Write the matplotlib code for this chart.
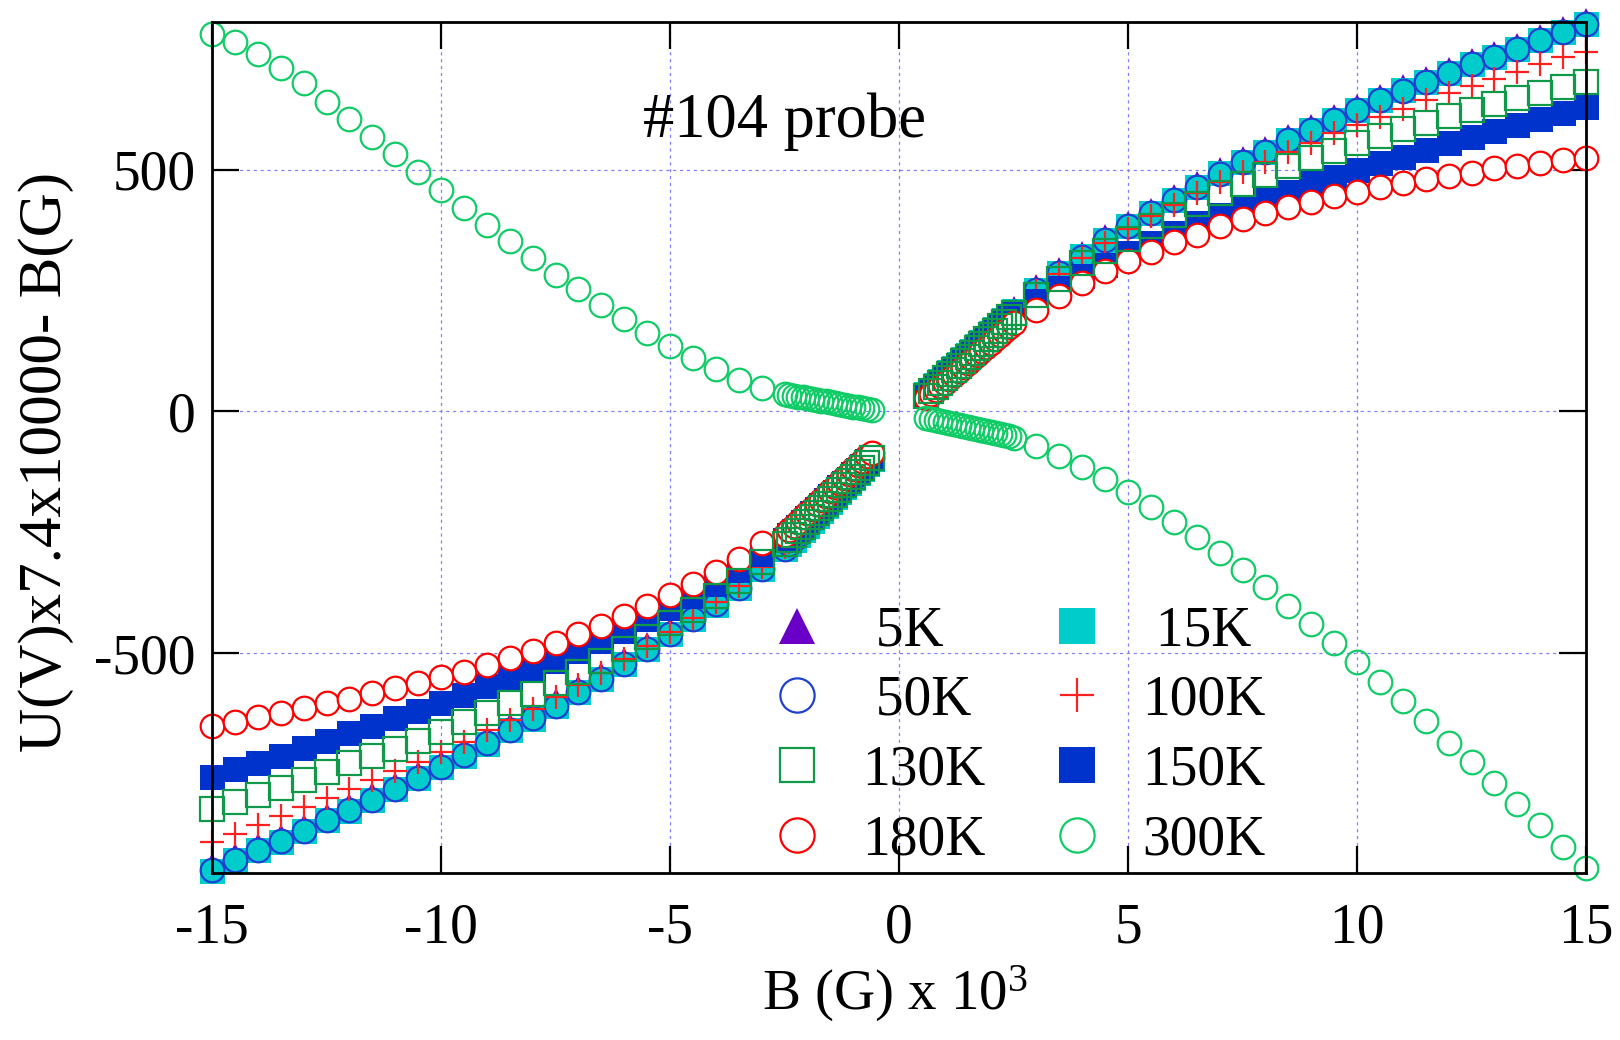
import numpy as np
import matplotlib
matplotlib.use('Agg')
import matplotlib.pyplot as plt

plt.rcParams['font.family'] = ['Liberation Serif', 'DejaVu Serif']
plt.rcParams['mathtext.default'] = 'regular'
plt.rcParams['axes.unicode_minus'] = False

# campo B (G) x 10^3: tramos gruesos (paso 0.5) y densos (paso 0.1)
B_NEG = np.round(np.arange(-15, -2.99, 0.5), 2)
B_NEG_D = np.round(np.arange(-2.5, -0.59, 0.1), 2)
B_POS_D = np.round(np.arange(0.6, 2.51, 0.1), 2)
B_POS = np.round(np.arange(3, 15.01, 0.5), 2)

# U(V)x7.4x10000 - B(G)
Y5_NEG = [-938, -917, -897, -878, -857, -835, -814, -792, -771, -748, -725, -701, -677, -649, -625, -598, -571, -543, -513, -482, -451, -420, -390, -356, -316]
Y5_NEG_D = [-275, -265, -255, -246, -236, -226, -216, -206, -196, -186, -177, -167, -157, -147, -137, -127, -118, -108, -98, -88]
Y5_POS_D = [44, 53, 62, 71, 80, 89, 98, 107, 116, 125, 134, 143, 152, 161, 170, 179, 188, 197, 206, 215]
Y5_POS = [260, 294, 329, 363, 391, 418, 446, 473, 501, 525, 546, 570, 591, 611, 632, 653, 673, 690, 708, 728, 742, 759, 777, 794, 810]

Y15_NEG = [-950, -929, -908, -890, -869, -846, -826, -803, -782, -759, -736, -712, -688, -660, -636, -609, -581, -554, -523, -492, -461, -430, -400, -366, -325]
Y15_NEG_D = [-285, -275, -265, -256, -246, -236, -226, -216, -206, -196, -187, -177, -167, -157, -147, -137, -128, -118, -108, -98]
Y15_POS_D = [36, 45, 54, 63, 72, 81, 90, 99, 108, 117, 126, 135, 144, 153, 162, 171, 180, 189, 198, 207]
Y15_POS = [252, 286, 321, 355, 383, 410, 438, 465, 493, 517, 538, 562, 583, 603, 624, 645, 665, 682, 700, 720, 734, 751, 769, 786, 802]

Y50_NEG = [-949, -928, -908, -889, -868, -846, -825, -803, -781, -759, -735, -711, -687, -660, -635, -609, -580, -553, -523, -491, -460, -430, -399, -365, -325]
Y50_NEG_D = [-284, -274, -264, -255, -245, -235, -225, -215, -205, -196, -186, -176, -166, -156, -146, -137, -127, -117, -107, -97]
Y50_POS_D = [35, 44, 53, 62, 71, 80, 89, 98, 107, 116, 125, 134, 143, 152, 161, 170, 179, 188, 197, 206]
Y50_POS = [251, 286, 320, 354, 383, 410, 437, 465, 492, 517, 538, 561, 583, 603, 624, 644, 664, 682, 700, 719, 734, 751, 768, 786, 801]

Y100_NEG = [-891, -874, -855, -837, -819, -800, -781, -762, -743, -725, -704, -683, -660, -638, -616, -590, -566, -541, -512, -486, -456, -428, -395, -362, -322]
Y100_NEG_D = [-280, -270, -261, -251, -241, -232, -222, -212, -203, -193, -183, -174, -164, -154, -145, -135, -126, -116, -106, -97]
Y100_POS_D = [35, 44, 53, 62, 71, 80, 89, 98, 107, 116, 124, 133, 142, 151, 160, 169, 178, 187, 196, 205]
Y100_POS = [250, 284, 317, 349, 377, 404, 428, 452, 474, 496, 517, 538, 556, 576, 593, 610, 627, 645, 660, 673, 689, 703, 719, 733, 744]

Y130_NEG = [-822, -809, -793, -780, -762, -745, -728, -713, -698, -681, -664, -643, -624, -603, -585, -562, -540, -516, -492, -466, -438, -411, -382, -350, -312]
Y130_NEG_D = [-275, -266, -256, -247, -238, -228, -219, -210, -200, -191, -181, -172, -163, -153, -144, -135, -125, -116, -106, -97]
Y130_POS_D = [33, 42, 51, 60, 69, 78, 86, 95, 104, 113, 122, 131, 140, 149, 158, 167, 176, 185, 195, 204]
Y130_POS = [242, 274, 307, 333, 357, 383, 407, 430, 452, 471, 490, 508, 524, 540, 555, 570, 584, 598, 612, 624, 636, 648, 660, 671, 682]

Y150_NEG = [-757, -740, -727, -712, -697, -681, -665, -650, -635, -619, -603, -587, -569, -552, -533, -516, -495, -475, -454, -430, -406, -382, -357, -328, -295]
Y150_NEG_D = [-265, -256, -247, -238, -229, -220, -211, -202, -193, -184, -175, -166, -157, -148, -139, -130, -121, -112, -103, -95]
Y150_POS_D = [35, 44, 53, 62, 71, 79, 88, 97, 106, 115, 124, 133, 142, 151, 160, 169, 178, 187, 196, 204]
Y150_POS = [228, 256, 280, 304, 328, 349, 369, 390, 407, 424, 441, 455, 472, 486, 500, 514, 527, 541, 555, 568, 581, 593, 605, 617, 630]

Y180_NEG = [-650, -642, -633, -624, -614, -604, -594, -583, -573, -562, -550, -539, -525, -511, -495, -479, -461, -444, -423, -402, -380, -357, -332, -305, -272]
Y180_NEG_D = [-255, -246, -237, -228, -219, -210, -201, -192, -183, -174, -165, -156, -147, -138, -129, -120, -111, -102, -93, -85]
Y180_POS_D = [28, 36, 44, 52, 60, 68, 76, 84, 93, 101, 109, 117, 125, 134, 142, 150, 158, 166, 175, 183]
Y180_POS = [211, 238, 266, 290, 311, 331, 350, 366, 383, 398, 410, 423, 434, 445, 455, 464, 472, 481, 488, 494, 503, 507, 515, 521, 524]

Y300_NEG = [782, 765, 740, 711, 679, 641, 605, 569, 532, 495, 458, 422, 386, 352, 317, 283, 253, 221, 192, 163, 136, 111, 88, 66, 49]
Y300_NEG_D = [36, 34, 32, 31, 29, 27, 26, 24, 22, 21, 19, 17, 16, 14, 12, 10, 9, 7, 5, 3]
Y300_POS_D = [-14, -16, -18, -20, -22, -24, -26, -28, -30, -32, -34, -36, -38, -40, -42, -44, -46, -48, -51, -54]
Y300_POS = [-72, -92, -114, -140, -167, -197, -229, -259, -293, -328, -364, -402, -440, -479, -518, -559, -599, -640, -685, -726, -769, -812, -855, -901, -945]

X = np.concatenate([B_NEG, B_NEG_D, B_POS_D, B_POS])

# (etiqueta, datos, marcador, tamano, color, relleno)
SERIES = [
    (' 5K',  [Y5_NEG, Y5_NEG_D, Y5_POS_D, Y5_POS],         '^', 18, '#6a00c8', '#6a00c8'),
    (' 15K', [Y15_NEG, Y15_NEG_D, Y15_POS_D, Y15_POS],     's', 18, '#00cccc', '#00cccc'),
    (' 50K', [Y50_NEG, Y50_NEG_D, Y50_POS_D, Y50_POS],     'o', 17, '#1f3fd0', 'none'),
    ('100K', [Y100_NEG, Y100_NEG_D, Y100_POS_D, Y100_POS], '+', 17, '#ff2020', 'none'),
    ('150K', [Y150_NEG, Y150_NEG_D, Y150_POS_D, Y150_POS], 's', 18, '#0033cc', '#0033cc'),
    ('180K', [Y180_NEG, Y180_NEG_D, Y180_POS_D, Y180_POS], 'o', 17, '#ff0000', 'white'),
    ('130K', [Y130_NEG, Y130_NEG_D, Y130_POS_D, Y130_POS], 's', 17, '#11994a', 'none'),
    ('300K', [Y300_NEG, Y300_NEG_D, Y300_POS_D, Y300_POS], 'o', 17, '#10cc66', 'none'),
]

fig = plt.figure(figsize=(16.2, 10.4), dpi=100)
ax = fig.add_axes([212/1620, 1-873/1040, 1374/1620, 851/1040])

handles = {}
for lab, partes, mk, ms, col, fc in SERIES:
    y = np.concatenate([np.array(p, float) for p in partes])
    h, = ax.plot(X, y, linestyle='none', marker=mk, markersize=ms,
                 markeredgecolor=col, markerfacecolor=fc,
                 markeredgewidth=(0 if fc == col else 1.6), clip_on=False, label=lab)
    handles[lab] = h

ax.set_xlim(-15, 15)
ax.set_ylim(-955, 806)
ax.set_xticks([-15, -10, -5, 0, 5, 10, 15])
ax.set_yticks([-500, 0, 500])
ax.tick_params(direction='in', length=19.5, width=1.6, labelsize=40,
               top=True, right=True)
ax.tick_params(axis='x', pad=21)
ax.tick_params(axis='y', pad=12)
for s in ax.spines.values():
    s.set_linewidth(2.0)
ax.grid(True, color='#8080ff', linestyle=(0, (2.5, 3)), linewidth=0.9)
ax.set_axisbelow(True)

ax.text((643-212)/1374, (873-137)/851, '#104 probe', transform=ax.transAxes,
        fontsize=45, ha='left', va='baseline')

fig.text(61/1620, 1-462/1040, 'U(V)x7.4x10000- B(G)', rotation=90,
         rotation_mode='anchor', ha='center', va='baseline', fontsize=44)
fig.text(895/1620, 1-1010/1040, r'B (G) x 10$^3$', ha='center', va='baseline', fontsize=41)

orden = [' 5K', ' 50K', '130K', '180K', ' 15K', '100K', '150K', '300K']
ax.legend([handles[k] for k in orden], orden, ncol=2, frameon=False,
          fontsize=40, markerscale=1.45, handlelength=1.0, handletextpad=0.67,
          columnspacing=1.15, labelspacing=0.32, borderpad=0, borderaxespad=0,
          loc='upper left', bbox_to_anchor=(769/1620, 1-605/1040),
          bbox_transform=fig.transFigure)

fig.savefig('out.png', dpi=100)
